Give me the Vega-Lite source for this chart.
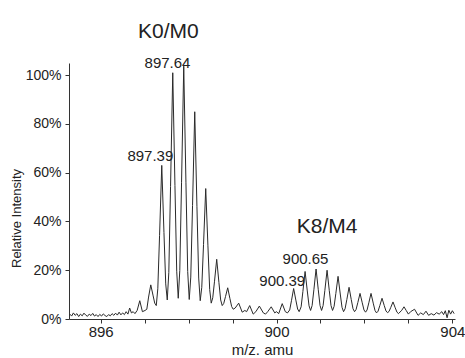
{
  "$schema": "https://vega.github.io/schema/vega-lite/v6.json",
  "width": 386,
  "height": 256,
  "autosize": {"type": "none"},
  "padding": {"left": 69, "top": 63, "right": 10, "bottom": 39},
  "background": "white",
  "config": {
    "view": {"stroke": null},
    "font": "Liberation Sans",
    "axis": {"grid": false, "domainColor": "#333", "tickColor": "#333", "labelColor": "#222", "titleColor": "#222", "labelFont": "Liberation Sans", "titleFont": "Liberation Sans", "titleFontWeight": "normal"}
  },
  "datasets": {
    "spectrum": [
      {"mz": 895.30, "rel": 2.0}, {"mz": 895.34, "rel": 1.2}, {"mz": 895.38, "rel": 2.5}, {"mz": 895.42, "rel": 1.5},
      {"mz": 895.46, "rel": 2.2}, {"mz": 895.50, "rel": 1.0}, {"mz": 895.54, "rel": 2.0}, {"mz": 895.58, "rel": 1.3},
      {"mz": 895.62, "rel": 2.4}, {"mz": 895.66, "rel": 1.6}, {"mz": 895.70, "rel": 1.1}, {"mz": 895.74, "rel": 2.0},
      {"mz": 895.78, "rel": 1.4}, {"mz": 895.82, "rel": 2.3}, {"mz": 895.86, "rel": 1.2}, {"mz": 895.90, "rel": 1.8},
      {"mz": 895.94, "rel": 1.0}, {"mz": 895.98, "rel": 1.9}, {"mz": 896.02, "rel": 1.2}, {"mz": 896.06, "rel": 2.1},
      {"mz": 896.10, "rel": 1.4}, {"mz": 896.14, "rel": 1.0}, {"mz": 896.18, "rel": 1.8}, {"mz": 896.22, "rel": 1.3},
      {"mz": 896.26, "rel": 2.2}, {"mz": 896.30, "rel": 1.5}, {"mz": 896.34, "rel": 2.4}, {"mz": 896.38, "rel": 1.6},
      {"mz": 896.42, "rel": 2.8}, {"mz": 896.46, "rel": 1.7}, {"mz": 896.50, "rel": 2.5}, {"mz": 896.54, "rel": 1.8},
      {"mz": 896.58, "rel": 3.0}, {"mz": 896.62, "rel": 2.0}, {"mz": 896.66, "rel": 4.5}, {"mz": 896.70, "rel": 2.5},
      {"mz": 896.74, "rel": 3.0}, {"mz": 896.78, "rel": 2.2}, {"mz": 896.83, "rel": 3.5}, {"mz": 896.89, "rel": 7.5},
      {"mz": 896.95, "rel": 3.0}, {"mz": 897.01, "rel": 3.5}, {"mz": 897.05, "rel": 4.0}, {"mz": 897.09, "rel": 9.0},
      {"mz": 897.14, "rel": 14.0}, {"mz": 897.19, "rel": 9.8}, {"mz": 897.23, "rel": 6.5}, {"mz": 897.265, "rel": 5.5},
      {"mz": 897.30, "rel": 12.4}, {"mz": 897.34, "rel": 34.3}, {"mz": 897.39, "rel": 63.0}, {"mz": 897.44, "rel": 35.4},
      {"mz": 897.48, "rel": 14.4}, {"mz": 897.515, "rel": 7.8}, {"mz": 897.55, "rel": 19.0}, {"mz": 897.59, "rel": 54.4},
      {"mz": 897.64, "rel": 101.0}, {"mz": 897.69, "rel": 54.75}, {"mz": 897.73, "rel": 19.6}, {"mz": 897.765, "rel": 8.5},
      {"mz": 897.80, "rel": 19.9}, {"mz": 897.84, "rel": 56.1}, {"mz": 897.89, "rel": 103.7}, {"mz": 897.94, "rel": 55.85},
      {"mz": 897.98, "rel": 19.5}, {"mz": 898.015, "rel": 8.0}, {"mz": 898.05, "rel": 17.2}, {"mz": 898.09, "rel": 46.5},
      {"mz": 898.14, "rel": 85.0}, {"mz": 898.19, "rel": 46.25}, {"mz": 898.23, "rel": 16.8}, {"mz": 898.265, "rel": 7.5},
      {"mz": 898.30, "rel": 13.0}, {"mz": 898.34, "rel": 30.5}, {"mz": 898.39, "rel": 53.5}, {"mz": 898.44, "rel": 30.0},
      {"mz": 898.48, "rel": 12.1}, {"mz": 898.515, "rel": 6.5}, {"mz": 898.55, "rel": 8.7}, {"mz": 898.59, "rel": 15.5},
      {"mz": 898.64, "rel": 24.5}, {"mz": 898.69, "rel": 15.0}, {"mz": 898.73, "rel": 7.8}, {"mz": 898.765, "rel": 5.5},
      {"mz": 898.80, "rel": 6.4}, {"mz": 898.84, "rel": 9.2}, {"mz": 898.89, "rel": 12.8}, {"mz": 898.94, "rel": 8.4},
      {"mz": 898.98, "rel": 5.1}, {"mz": 899.015, "rel": 4.0}, {"mz": 899.06, "rel": 4.5}, {"mz": 899.14, "rel": 6.5},
      {"mz": 899.22, "rel": 2.8}, {"mz": 899.28, "rel": 3.5}, {"mz": 899.32, "rel": 3.0}, {"mz": 899.39, "rel": 5.5},
      {"mz": 899.47, "rel": 2.0}, {"mz": 899.53, "rel": 3.0}, {"mz": 899.61, "rel": 5.3}, {"mz": 899.70, "rel": 2.5},
      {"mz": 899.75, "rel": 2.0}, {"mz": 899.80, "rel": 3.0}, {"mz": 899.88, "rel": 5.0}, {"mz": 899.96, "rel": 2.5},
      {"mz": 900.00, "rel": 3.0}, {"mz": 900.05, "rel": 2.2}, {"mz": 900.13, "rel": 6.3}, {"mz": 900.20, "rel": 3.0},
      {"mz": 900.25, "rel": 2.5}, {"mz": 900.30, "rel": 3.7}, {"mz": 900.34, "rel": 7.5}, {"mz": 900.39, "rel": 12.5},
      {"mz": 900.44, "rel": 7.75}, {"mz": 900.48, "rel": 4.1}, {"mz": 900.515, "rel": 3.0}, {"mz": 900.56, "rel": 5.0},
      {"mz": 900.60, "rel": 11.25}, {"mz": 900.65, "rel": 19.5}, {"mz": 900.70, "rel": 11.5}, {"mz": 900.74, "rel": 5.4},
      {"mz": 900.775, "rel": 3.5}, {"mz": 900.81, "rel": 5.5}, {"mz": 900.85, "rel": 12.0}, {"mz": 900.90, "rel": 20.5},
      {"mz": 900.95, "rel": 12.0}, {"mz": 900.99, "rel": 5.5}, {"mz": 901.025, "rel": 3.5}, {"mz": 901.06, "rel": 5.5},
      {"mz": 901.10, "rel": 11.75}, {"mz": 901.15, "rel": 20.0}, {"mz": 901.20, "rel": 11.75}, {"mz": 901.24, "rel": 5.5},
      {"mz": 901.275, "rel": 3.5}, {"mz": 901.31, "rel": 5.2}, {"mz": 901.35, "rel": 10.5}, {"mz": 901.40, "rel": 17.5},
      {"mz": 901.45, "rel": 10.25}, {"mz": 901.49, "rel": 4.8}, {"mz": 901.525, "rel": 3.0}, {"mz": 901.56, "rel": 4.2},
      {"mz": 901.60, "rel": 8.0}, {"mz": 901.65, "rel": 13.0}, {"mz": 901.70, "rel": 8.0}, {"mz": 901.74, "rel": 4.2},
      {"mz": 901.775, "rel": 3.0}, {"mz": 901.81, "rel": 3.9}, {"mz": 901.85, "rel": 6.75}, {"mz": 901.90, "rel": 10.5},
      {"mz": 901.95, "rel": 6.65}, {"mz": 901.99, "rel": 3.7}, {"mz": 902.025, "rel": 2.8}, {"mz": 902.06, "rel": 3.7},
      {"mz": 902.10, "rel": 6.65}, {"mz": 902.15, "rel": 10.5}, {"mz": 902.20, "rel": 6.5}, {"mz": 902.24, "rel": 3.5},
      {"mz": 902.275, "rel": 2.5}, {"mz": 902.31, "rel": 3.2}, {"mz": 902.35, "rel": 5.5}, {"mz": 902.40, "rel": 8.5},
      {"mz": 902.45, "rel": 5.55}, {"mz": 902.49, "rel": 3.3}, {"mz": 902.525, "rel": 2.6}, {"mz": 902.56, "rel": 3.1},
      {"mz": 902.60, "rel": 4.8}, {"mz": 902.65, "rel": 7.0}, {"mz": 902.70, "rel": 4.6}, {"mz": 902.74, "rel": 2.8},
      {"mz": 902.775, "rel": 2.2}, {"mz": 902.85, "rel": 3.6}, {"mz": 902.90, "rel": 5.0}, {"mz": 902.95, "rel": 3.5},
      {"mz": 903.00, "rel": 2.0}, {"mz": 903.05, "rel": 3.0}, {"mz": 903.14, "rel": 4.0}, {"mz": 903.22, "rel": 1.5},
      {"mz": 903.28, "rel": 2.5}, {"mz": 903.34, "rel": 1.8}, {"mz": 903.40, "rel": 3.2}, {"mz": 903.46, "rel": 1.5},
      {"mz": 903.52, "rel": 2.2}, {"mz": 903.58, "rel": 1.6}, {"mz": 903.64, "rel": 2.6}, {"mz": 903.70, "rel": 2.0},
      {"mz": 903.76, "rel": 3.0}, {"mz": 903.80, "rel": 1.8}, {"mz": 903.84, "rel": 3.4}, {"mz": 903.88, "rel": 0.5},
      {"mz": 903.92, "rel": 3.6}, {"mz": 903.96, "rel": 2.0}, {"mz": 904.00, "rel": 3.4}, {"mz": 904.04, "rel": 2.2}
    ],
    "labels": [
      {"mz": 897.54, "rel": 117.8, "text": "K0/M0", "size": "big"},
      {"mz": 901.15, "rel": 37.9, "text": "K8/M4", "size": "big"},
      {"mz": 897.52, "rel": 104.9, "text": "897.64", "size": "small"},
      {"mz": 897.13, "rel": 66.8, "text": "897.39", "size": "small"},
      {"mz": 900.66, "rel": 24.6, "text": "900.65", "size": "small"},
      {"mz": 900.13, "rel": 15.6, "text": "900.39", "size": "small"}
    ]
  },
  "layer": [
    {
      "data": {"name": "spectrum"},
      "mark": {"type": "line", "color": "#2a2a2a", "strokeWidth": 1, "clip": true},
      "encoding": {
        "x": {
          "field": "mz", "type": "quantitative",
          "scale": {"domain": [895.28, 904.06], "nice": false, "zero": false},
          "axis": {
            "title": "m/z. amu", "titleFontSize": 15, "titlePadding": 3,
            "values": [896, 897, 898, 899, 900, 901, 902, 903, 904],
            "labelExpr": "datum.value % 4 == 0 ? datum.label : ''",
            "labelFontSize": 15, "labelPadding": 1, "tickSize": 4, "labelFlush": false
          }
        },
        "y": {
          "field": "rel", "type": "quantitative",
          "scale": {"domain": [0, 105], "nice": false},
          "axis": {
            "title": "Relative Intensity", "titleFontSize": 13, "titleX": -46, "titleY": 155,
            "values": [0, 5, 10, 15, 20, 25, 30, 35, 40, 45, 50, 55, 60, 65, 70, 75, 80, 85, 90, 95, 100],
            "labelExpr": "datum.value % 20 == 0 ? datum.value + '%' : ''",
            "labelFontSize": 14, "labelPadding": 4, "tickSize": 4, "labelFlush": false
          }
        }
      }
    },
    {
      "data": {"name": "labels"},
      "mark": {"type": "text", "baseline": "middle", "align": "center", "color": "#222", "font": "Liberation Sans"},
      "encoding": {
        "x": {"field": "mz", "type": "quantitative"},
        "y": {"field": "rel", "type": "quantitative"},
        "text": {"field": "text"},
        "size": {"field": "size", "type": "nominal", "scale": {"domain": ["big", "small"], "range": [21, 15]}, "legend": null}
      }
    }
  ]
}
